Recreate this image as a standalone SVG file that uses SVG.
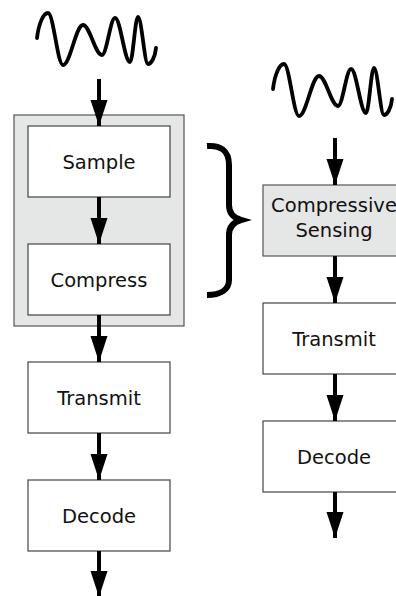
<svg xmlns="http://www.w3.org/2000/svg" width="396" height="596" viewBox="0 0 396 596">
<defs>
<marker id="ah" markerUnits="userSpaceOnUse" markerWidth="26" markerHeight="18" refX="26" refY="9" orient="auto">
<path d="M0,0.5 L26,9 L0,17.5 z" fill="#000"/>
</marker>
<path id="wave" d="M37,38 C38.5,25 43,13 48,13 C53.5,13 57.5,65 63,65 C70.3,65 75.7,25 83,25 C89.9,25 95.1,55 102,55 C106.7,55 110.3,18 115,18 C120.5,18 124.5,62 130,62 C132.9,62 135.1,17 138,17 C141.6,17 144.4,64 148,64 C151,64 155,58 156,48"/>
</defs>
<style>
.box{fill:#fff;stroke:#444;stroke-width:1.2}
.gbox{fill:#e5e7e7;stroke:#555;stroke-width:1.2}
.lbl{font-family:"DejaVu Sans",Verdana,sans-serif;font-size:19.5px;fill:#111;text-anchor:middle}
.wave{fill:none;stroke:#000;stroke-width:3.8;stroke-linecap:round}
.conn line{stroke:#000;stroke-width:4;marker-end:url(#ah)}
</style>
<rect width="396" height="596" fill="#fff"/>
<g id="signal-left"><use href="#wave" class="wave"/></g>
<g id="signal-right"><use href="#wave" class="wave" transform="translate(236,51)"/></g>
<g id="group-sample-compress"><rect class="gbox" x="14" y="115" width="170" height="211"/></g>
<g id="sample"><rect class="box" x="28" y="126" width="142" height="71"/><text class="lbl" x="99" y="168.5">Sample</text></g>
<g id="compress"><rect class="box" x="28" y="244" width="142" height="71"/><text class="lbl" x="99" y="286.5">Compress</text></g>
<g id="transmit-left"><rect class="box" x="28" y="362" width="142" height="71"/><text class="lbl" x="99" y="404.5">Transmit</text></g>
<g id="decode-left"><rect class="box" x="28" y="480" width="142" height="71"/><text class="lbl" x="99" y="522.5">Decode</text></g>
<g id="brace"><path d="M207,146 C220,145 229,150 229,165 L229,205 C229,213 234,218 241,220 C234,222 229,227 229,235 L229,280 C229,290 220,295 207,295" fill="none" stroke="#000" stroke-width="6"/></g>
<g id="compressive-sensing"><rect class="gbox" x="263" y="185" width="142" height="71"/><text class="lbl" x="334" y="212">Compressive</text><text class="lbl" x="334" y="237">Sensing</text></g>
<g id="transmit-right"><rect class="box" x="263" y="303" width="142" height="71"/><text class="lbl" x="334" y="345.5">Transmit</text></g>
<g id="decode-right"><rect class="box" x="263" y="421" width="142" height="71"/><text class="lbl" x="334" y="463.5">Decode</text></g>
<g class="conn" id="connectors">
<line x1="99" y1="79" x2="99" y2="126"/>
<line x1="99" y1="197" x2="99" y2="244"/>
<line x1="99" y1="315" x2="99" y2="362"/>
<line x1="99" y1="433" x2="99" y2="480"/>
<line x1="99" y1="551" x2="99" y2="597"/>
<line x1="335" y1="138" x2="335" y2="185"/>
<line x1="335" y1="256" x2="335" y2="303"/>
<line x1="335" y1="374" x2="335" y2="421"/>
<line x1="335" y1="492" x2="335" y2="538"/>
</g>
</svg>
